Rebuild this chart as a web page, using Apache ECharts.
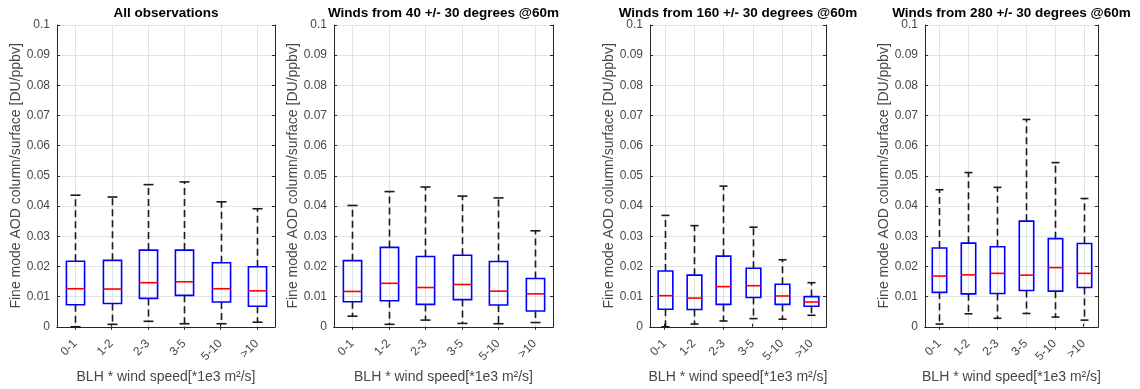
<!DOCTYPE html>
<html>
<head>
<meta charset="utf-8">
<script src="https://cdn.jsdelivr.net/npm/echarts@6/dist/echarts.min.js"></script>
<style>
html,body{margin:0;padding:0;background:#fff;}
#chart{width:1140px;height:389px;}
</style>
</head>
<body>
<div id="chart"></div>
<script>
// ---- data: [min(whisker), Q1, median, Q3, max(whisker)] per category ----
const categories = ['0-1', '1-2', '2-3', '3-5', '5-10', '>10'];
const titles = [
  'All observations',
  'Winds from 40 +/- 30 degrees @60m',
  'Winds from 160 +/- 30 degrees @60m',
  'Winds from 280 +/- 30 degrees @60m'
];
const allObs = [
  [0.0000, 0.0073, 0.0126, 0.0217, 0.0436],
  [0.0008, 0.0077, 0.0125, 0.0220, 0.0430],
  [0.0018, 0.0094, 0.0146, 0.0254, 0.0471],
  [0.0010, 0.0104, 0.0149, 0.0254, 0.0480],
  [0.0010, 0.0082, 0.0126, 0.0212, 0.0414],
  [0.0015, 0.0068, 0.0119, 0.0199, 0.0391]
];
const winds40 = [
  [0.0035, 0.0083, 0.0117, 0.0219, 0.0402],
  [0.0008, 0.0086, 0.0144, 0.0263, 0.0448],
  [0.0022, 0.0074, 0.0130, 0.0233, 0.0463],
  [0.0011, 0.0090, 0.0140, 0.0237, 0.0433],
  [0.0010, 0.0072, 0.0118, 0.0216, 0.0427],
  [0.0014, 0.0052, 0.0109, 0.0160, 0.0318]
];
const winds160 = [
  [0.0000, 0.0058, 0.0103, 0.0185, 0.0369],
  [0.0009, 0.0057, 0.0095, 0.0171, 0.0335],
  [0.0019, 0.0074, 0.0133, 0.0234, 0.0466],
  [0.0027, 0.0097, 0.0136, 0.0194, 0.0330],
  [0.0025, 0.0074, 0.0102, 0.0141, 0.0222],
  [0.0038, 0.0068, 0.0082, 0.0100, 0.0146]
];
const winds280 = [
  [0.0009, 0.0114, 0.0168, 0.0261, 0.0454],
  [0.0043, 0.0109, 0.0172, 0.0277, 0.0511],
  [0.0028, 0.0110, 0.0177, 0.0265, 0.0462],
  [0.0044, 0.0120, 0.0171, 0.0350, 0.0687],
  [0.0032, 0.0118, 0.0196, 0.0292, 0.0544],
  [0.0022, 0.0130, 0.0177, 0.0276, 0.0425]
];
const panels = [allObs, winds40, winds160, winds280];
const yMin = 0, yMax = 0.1, yStep = 0.01;
const xName = 'BLH * wind speed[*1e3 m\u00B2/s]';
const yName = 'Fine mode AOD column/surface [DU/ppbv]';

// ---- layout ----
const gridBoxes = [
  {left: 57, width: 218},
  {left: 334, width: 219},
  {left: 650, width: 176},
  {left: 925, width: 173}
];
const gridTop = 25, gridHeight = 304;
const FONT = 'Arial, "Liberation Sans", Helvetica, sans-serif';
const frameColor = '#262626';
const labelColor = '#474747';
const gridColor = '#e2e2e2';

const option = {
  animation: false,
  backgroundColor: '#ffffff',
  title: [], grid: [], xAxis: [], yAxis: [], series: []
};

panels.forEach((pdata, i) => {
  const g = gridBoxes[i];
  option.title.push({
    text: titles[i],
    left: g.left + g.width / 2,
    top: 6,
    padding: 0,
    textAlign: 'center',
    textStyle: {fontFamily: FONT, fontSize: 13.5, fontWeight: 'bold', color: '#000'}
  });
  option.grid.push({
    left: g.left, top: gridTop, width: g.width, height: gridHeight,
    show: false, containLabel: false
  });
  // bottom x axis
  option.xAxis.push({
    type: 'category', gridIndex: i, data: categories, position: 'bottom',
    boundaryGap: true,
    axisLine: {show: true, lineStyle: {color: frameColor, width: 1}},
    axisTick: {show: true, inside: true, length: 3, alignWithLabel: true, lineStyle: {color: frameColor}},
    axisLabel: {rotate: 45, margin: 15, fontFamily: FONT, fontSize: 12, color: labelColor, interval: 0},
    splitLine: {show: false},
    name: xName, nameLocation: 'middle', nameGap: 42,
    nameTextStyle: {fontFamily: FONT, fontSize: 14, color: labelColor}
  });
  // top x axis (frame)
  option.xAxis.push({
    type: 'category', gridIndex: i, data: categories, position: 'top',
    boundaryGap: true,
    axisLine: {show: true, lineStyle: {color: frameColor, width: 1}},
    axisTick: {show: true, inside: true, length: 3, alignWithLabel: true, lineStyle: {color: frameColor}},
    axisLabel: {show: false}, splitLine: {show: false}
  });
  // left y axis
  option.yAxis.push({
    type: 'value', gridIndex: i, min: yMin, max: yMax, interval: yStep, position: 'left',
    axisLine: {show: true, lineStyle: {color: frameColor, width: 1}},
    axisTick: {show: true, inside: true, length: 3, lineStyle: {color: frameColor}},
    axisLabel: {
      margin: 7, fontFamily: FONT, fontSize: 12, color: labelColor,
      formatter: v => (Math.abs(v) < 1e-9 ? '0' : String(+v.toFixed(2)))
    },
    splitLine: {show: true, lineStyle: {color: gridColor, width: 1}},
    name: yName, nameLocation: 'middle', nameGap: 34,
    nameTextStyle: {fontFamily: FONT, fontSize: 14, color: labelColor}
  });
  // right y axis (frame)
  option.yAxis.push({
    type: 'value', gridIndex: i, min: yMin, max: yMax, interval: yStep, position: 'right',
    axisLine: {show: true, lineStyle: {color: frameColor, width: 1}},
    axisTick: {show: true, inside: true, length: 3, lineStyle: {color: frameColor}},
    axisLabel: {show: false}, splitLine: {show: false}
  });

  option.series.push({
    type: 'custom',
    xAxisIndex: i * 2, yAxisIndex: i * 2,
    encode: {x: 0, y: [1, 2, 3, 4, 5]},
    data: pdata.map((d, k) => [k].concat(d)),
    renderItem: function (params, api) {
      const x = api.value(0);
      const vMin = api.value(1), q1 = api.value(2), med = api.value(3), q3 = api.value(4), vMax = api.value(5);
      const pMin = api.coord([x, vMin]);
      const pQ1 = api.coord([x, q1]);
      const pMed = api.coord([x, med]);
      const pQ3 = api.coord([x, q3]);
      const pMax = api.coord([x, vMax]);
      const band = api.size([1, 0])[0];
      const bw = band * 0.5;
      const cw = bw * 0.55;
      const cx = Math.round(pMed[0]) + 0.5;
      const cs = params.coordSys;
      const dashStyle = {stroke: '#1a1a1a', lineWidth: 1.6, lineDash: [7, 4], fill: null};
      const solidBlack = {stroke: '#1a1a1a', lineWidth: 1.6, fill: null};
      return {
        type: 'group',
        children: [
          {type: 'line', shape: {x1: cx, y1: cs.y, x2: cx, y2: cs.y + cs.height},
           style: {stroke: gridColor, lineWidth: 1}, z2: 0},
          {type: 'line', shape: {x1: cx, y1: pQ3[1], x2: cx, y2: pMax[1]}, style: dashStyle, z2: 1},
          {type: 'line', shape: {x1: cx, y1: pQ1[1], x2: cx, y2: pMin[1]}, style: dashStyle, z2: 1},
          {type: 'line', shape: {x1: cx - cw / 2, y1: pMax[1], x2: cx + cw / 2, y2: pMax[1]}, style: solidBlack, z2: 1},
          {type: 'line', shape: {x1: cx - cw / 2, y1: pMin[1], x2: cx + cw / 2, y2: pMin[1]}, style: solidBlack, z2: 1},
          {type: 'rect', shape: {x: cx - bw / 2, y: pQ3[1], width: bw, height: pQ1[1] - pQ3[1]},
           style: {stroke: '#0000ff', lineWidth: 1.6, fill: null}, z2: 2},
          {type: 'line', shape: {x1: cx - bw / 2, y1: pMed[1], x2: cx + bw / 2, y2: pMed[1]},
           style: {stroke: '#ff0000', lineWidth: 1.6}, z2: 3}
        ]
      };
    }
  });
});

const chart = echarts.init(document.getElementById('chart'), null, {renderer: 'canvas'});
chart.setOption(option);
</script>
</body>
</html>
